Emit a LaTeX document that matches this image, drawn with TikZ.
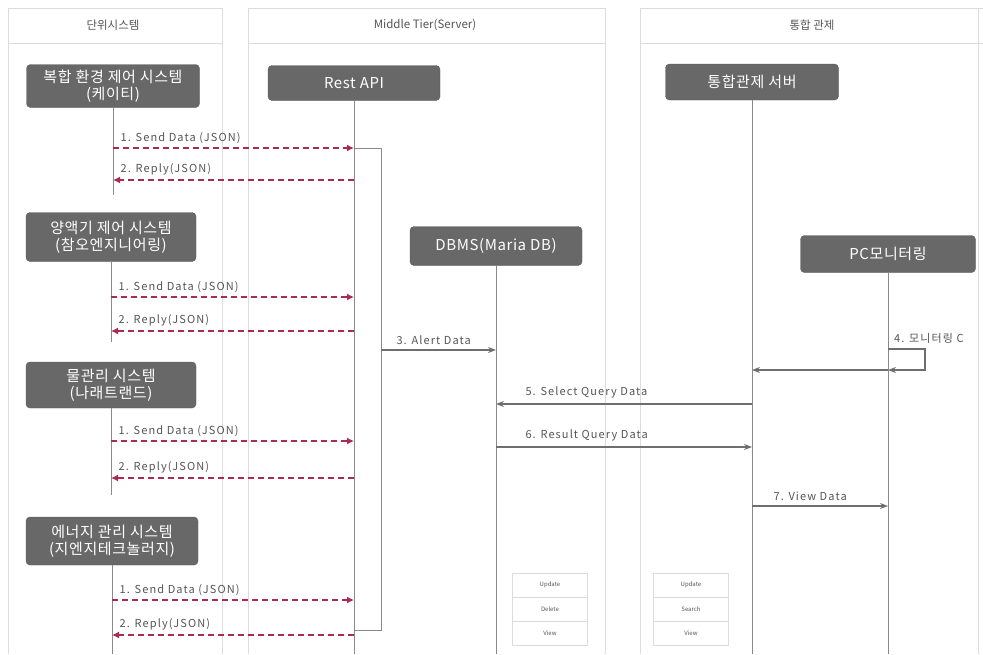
\documentclass[tikz,border=0pt]{standalone}
\usepackage{fontspec}
\setmainfont{Noto Sans CJK KR}
\usetikzlibrary{arrows.meta}
\definecolor{boxgray}{HTML}{686868}
\definecolor{lifegray}{HTML}{8A8A8A}
\definecolor{lanegray}{HTML}{DCDCDC}
\definecolor{msgred}{HTML}{A82A55}
\definecolor{txtgray}{HTML}{555555}
\tikzset{
  actor/.style={rectangle, rounded corners=4pt, fill=boxgray, draw=boxgray!85!black,
    text=white, align=center, font=\fontsize{15}{17}\selectfont\addfontfeatures{LetterSpace=4}, inner sep=2pt},
  head/.style={text=txtgray, font=\fontsize{11.5}{13}\selectfont},
  life/.style={draw=lifegray, line width=1pt},
  lane/.style={draw=lanegray, line width=1pt},
  send/.style={draw=msgred, line width=1.4pt, dash pattern=on 6pt off 4pt,
    -{Latex[length=7pt,width=7pt]}},
  msg/.style={draw=lifegray!80!black, line width=1.1pt, -{Stealth[length=8pt,width=6pt]}},
  lbl/.style={text=txtgray, font=\fontsize{11}{13}\selectfont\addfontfeatures{LetterSpace=10}, inner sep=1pt},
  cell/.style={draw=lanegray, minimum width=75, minimum height=24, inner sep=0pt,
    font=\fontsize{6}{7}\selectfont, text=txtgray},
}
\begin{document}
\begin{tikzpicture}
    [x=1pt,y=-1pt]
    \useasboundingbox[fill=white] (0,0) rectangle (983,654);
    %lanes
    \draw[lane] (8,8) -- (222,8) (8,43) -- (222,43);
    \draw[lane] (248,8) -- (605,8) (248,43) -- (605,43);
    \draw[lane] (640,8) -- (983,8) (640,43) -- (983,43);
    \draw[lane] (8,8) -- (8,654) (222,8) -- (222,654);
    \draw[lane] (248,8) -- (248,654) (605,8) -- (605,654);
    \draw[lane] (640,8) -- (640,654) (978,8) -- (978,654);
    \node[head] (h1) at (113,25) {단위시스템};
    \node[head] (h2) at (425,25) {Middle Tier(Server)};
    \node[head] (h3) at (812,25) {통합 관제};
    %boxes
    \node[actor, minimum width=173, minimum height=43] (sys1) at (113,86) {복합 환경 제어 시스템\\(케이티)};
    \node[actor, minimum width=170, minimum height=49] (sys2) at (111,237) {양액기 제어 시스템\\(참오엔지니어링)};
    \node[actor, minimum width=170, minimum height=46] (sys3) at (111,385) {물관리 시스템\\(나래트랜드)};
    \node[actor, minimum width=172, minimum height=48] (sys4) at (112,541) {에너지 관리 시스템\\(지엔지테크놀러지)};
    \node[actor, minimum width=172, minimum height=35] (api) at (354,83) {Rest API};
    \node[actor, minimum width=172, minimum height=39] (db) at (496,246) {DBMS(Maria DB)};
    \node[actor, minimum width=173, minimum height=36] (srv) at (752,82) {통합관제 서버};
    \node[actor, minimum width=175, minimum height=37] (pc) at (888,254) {PC모니터링};
    %lifelines
    \draw[life] (sys1.south) -- (sys1 |- 0,195);
    \draw[life] (sys2.south) -- (sys2 |- 0,342);
    \draw[life] (sys3.south) -- (sys3 |- 0,495);
    \draw[life] (sys4.south) -- (sys4 |- 0,654);
    \draw[life] (api.south) -- (api |- 0,654);
    \draw[life] (db.south) -- (db |- 0,654);
    \draw[life] (srv.south) -- (srv |- 0,654);
    \draw[life] (pc.south) -- (pc |- 0,654);
    %activation on rest api
    \coordinate (bar) at (381,148);
    \draw[life] (api |- bar) -- (bar) -- (bar |- 0,630) -- (api |- 0,630);
    %send / reply
    \foreach \s/\ys/\yr in {sys1/148/180, sys2/297/331, sys3/441/478, sys4/600/635}{
      \draw[send] (\s |- 0,\ys) -- (api |- 0,\ys)
        node[lbl, pos=0, anchor=south west, xshift=6pt, yshift=3pt] {1. Send Data (JSON)};
      \draw[send] (api |- 0,\yr) -- (\s |- 0,\yr)
        node[lbl, pos=1, anchor=south west, xshift=6pt, yshift=3pt] {2. Reply(JSON)};
    }
    %messages
    \draw[msg] (bar |- 0,350) -- (db |- 0,350)
      node[lbl, pos=0, anchor=south west, xshift=14pt, yshift=4pt] {3. Alert Data};
    \draw[msg] (pc |- 0,349) -- ++(37,0) |- (pc |- 0,370);
    \node[lbl, anchor=south west] (mon) at (893,345) {4. 모니터링 C};
    \draw[msg] (pc |- 0,370) -- (srv |- 0,370);
    \draw[msg] (srv |- 0,404) -- (db |- 0,404)
      node[lbl, pos=1, anchor=south west, xshift=28pt, yshift=4pt] {5. Select Query Data};
    \draw[msg] (db |- 0,447) -- (srv |- 0,447)
      node[lbl, pos=0, anchor=south west, xshift=28pt, yshift=4pt] {6. Result Query Data};
    \draw[msg] (srv |- 0,506) -- (pc |- 0,506)
      node[lbl, pos=0, anchor=south west, xshift=20pt, yshift=4pt] {7. View Data};
    %tables
    \node[cell] (ta) at (550,585) {Update};
    \node[cell] (tb) at (550,609) {Delete};
    \node[cell] (tc) at (550,633) {View};
    \node[cell] (td) at (691,585) {Update};
    \node[cell] (te) at (691,609) {Search};
    \node[cell] (tf) at (691,633) {View};
\end{tikzpicture}
\end{document}
